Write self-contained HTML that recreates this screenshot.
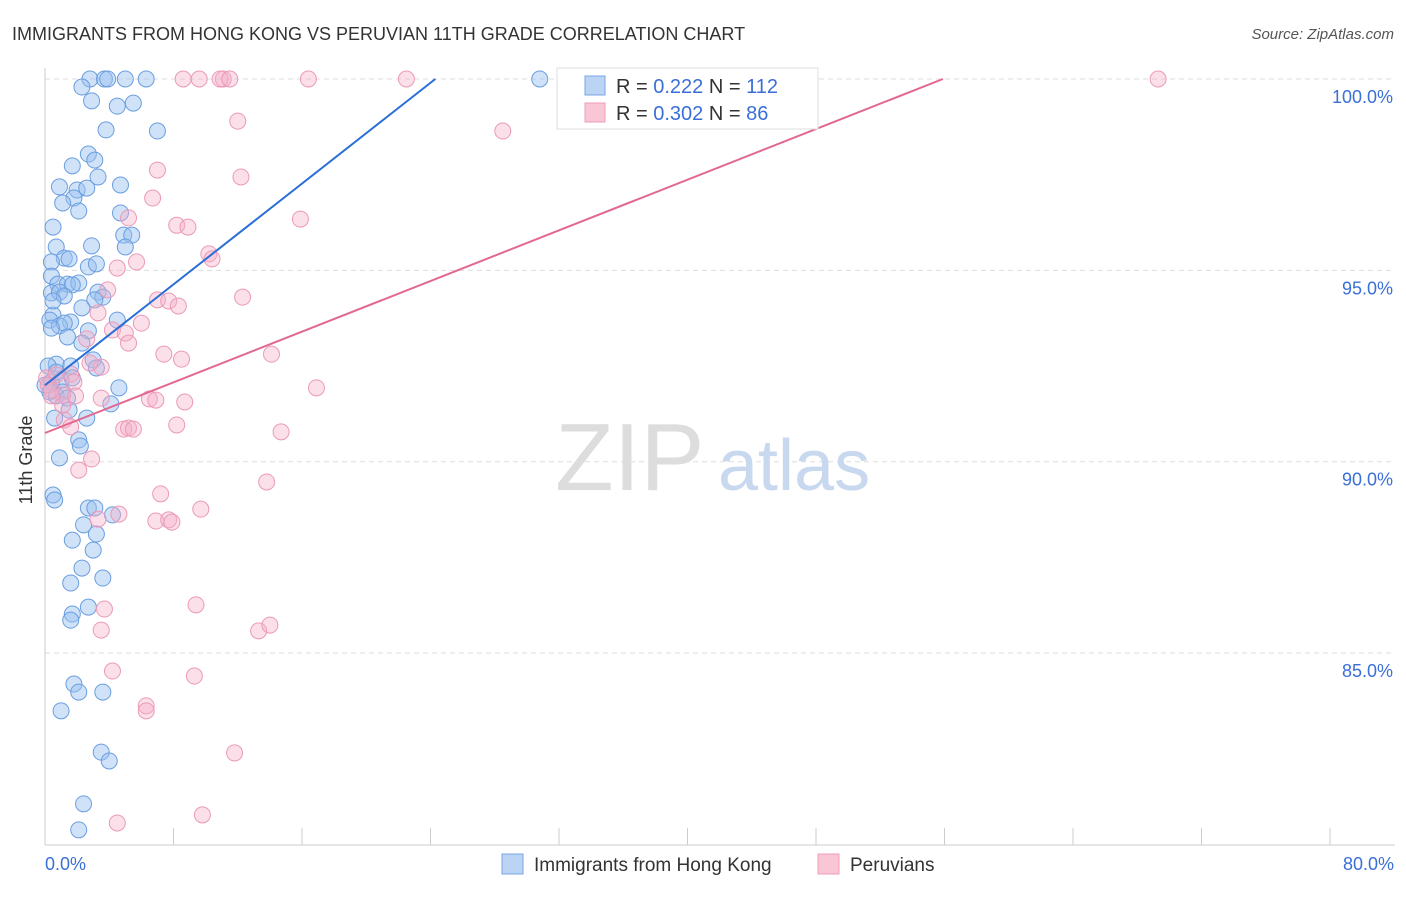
<!DOCTYPE html>
<html><head><meta charset="utf-8"><style>
body{margin:0;background:#fff;font-family:"Liberation Sans",sans-serif}
svg text{font-family:"Liberation Sans",sans-serif}
</style></head><body>
<svg id="chart" width="1406" height="892">
<text x="12" y="40" font-size="18" fill="#333">IMMIGRANTS FROM HONG KONG VS PERUVIAN 11TH GRADE CORRELATION CHART</text>
<text x="1394" y="39" font-size="15" fill="#555" font-style="italic" text-anchor="end">Source: ZipAtlas.com</text>
<text x="32" y="460" font-size="18" fill="#333" text-anchor="middle" transform="rotate(-90 32 460)">11th Grade</text>
<g id="grid"></g>
<g><text x="555" y="490" font-size="96" fill="#ddd" font-family="Liberation Serif">ZIP</text><text x="718" y="490" font-size="72" fill="#c8d8ef">atlas</text></g>
<g id="pts"></g>
<g id="lines"></g>
<g>
<rect x="557" y="68" width="261" height="61" fill="#fff" stroke="#ddd"/>
<rect x="585" y="76" width="20" height="19" fill="#bcd4f4" stroke="#7aa6e6"/>
<rect x="585" y="103" width="20" height="19" fill="#f9c6d5" stroke="#ee9cb8"/>
<text x="616" y="93" font-size="20" fill="#333">R = <tspan fill="#3a6fd8">0.222</tspan>   N = <tspan fill="#3a6fd8">112</tspan></text>
<text x="616" y="120" font-size="20" fill="#333">R = <tspan fill="#3a6fd8">0.302</tspan>   N = <tspan fill="#3a6fd8"> 86</tspan></text>
</g>
<g>
<rect x="502" y="854" width="21" height="20" fill="#bcd4f4" stroke="#7aa6e6"/>
<text x="534" y="871" font-size="19" fill="#333">Immigrants from Hong Kong</text>
<rect x="818" y="854" width="21" height="20" fill="#f9c6d5" stroke="#ee9cb8"/>
<text x="850" y="871" font-size="19" fill="#333">Peruvians</text>
</g>
</svg>
<script>
const yTicks=[100,95,90,85];
const xTickLabels=["0.0%","80.0%"];
const blueX=[2.8,3.7,3.9,5.0,6.3,30.8,2.3,2.9,4.5,5.5,3.8,7.0,2.7,3.1,1.7,3.3,4.7,0.9,2.0,2.6,1.8,1.1,2.1,4.7,0.5,4.9,5.4,2.9,0.7,5.0,1.2,1.5,0.4,2.7,3.2,0.4,0.8,1.4,2.1,1.7,0.4,0.9,1.2,3.3,3.6,3.1,2.3,0.5,0.3,1.6,0.9,1.2,2.7,0.4,1.4,2.3,4.5,3.0,0.7,1.6,3.2,0.4,1.0,1.7,1.1,0.3,0.7,1.4,4.6,4.1,1.5,2.6,0.6,2.1,2.2,0.9,0.5,0.6,2.7,3.1,2.4,4.2,3.2,1.7,3.0,2.3,3.6,1.6,1.7,1.6,2.7,1.8,2.1,3.6,1.0,3.5,4.0,2.4,2.1,0.5,0.2,0.7,0.0];
const blueY=[100,100,100,100,100,100,99.79,99.43,99.29,99.37,98.67,98.64,98.04,97.88,97.73,97.44,97.23,97.18,97.10,97.15,96.89,96.76,96.55,96.50,96.13,95.92,95.92,95.64,95.61,95.61,95.32,95.30,95.22,95.09,95.17,94.85,94.64,94.64,94.67,94.62,94.41,94.43,94.33,94.43,94.30,94.23,94.02,93.83,93.70,93.65,93.55,93.62,93.42,93.49,93.26,93.10,93.70,92.66,92.55,92.50,92.45,92.08,92.13,92.19,91.82,91.82,91.72,91.66,91.93,91.51,91.35,91.14,91.14,90.57,90.41,90.10,89.13,89.00,88.79,88.79,88.35,88.61,88.11,87.95,87.69,87.22,86.96,86.83,86.02,85.86,86.20,84.19,83.98,83.98,83.49,82.41,82.18,81.06,80.38,94.20,92.50,92.34,92.00];
const pinkX=[8.6,9.6,11.1,10.9,11.5,16.4,22.5,69.3,28.5,12.0,7.0,12.2,6.7,5.2,15.9,8.2,8.9,10.2,10.4,5.7,4.5,3.9,12.3,7.0,7.7,8.3,6.0,3.3,4.2,5.0,2.6,5.2,7.4,8.5,14.1,3.5,2.8,0.7,1.6,0.1,1.8,1.1,0.4,1.9,16.9,6.5,6.9,8.7,3.5,1.2,1.6,4.9,5.2,5.5,8.2,14.7,2.9,2.1,7.2,13.8,3.3,4.6,9.7,6.9,7.7,7.9,9.4,3.7,3.5,13.3,14.0,4.2,9.3,6.3,6.3,11.8,4.5,9.8,0.2,0.4,1.1];
const pinkY=[100,100,100,100,100,100,100,100,98.64,98.90,97.62,97.44,96.89,96.37,96.34,96.18,96.13,95.43,95.30,95.22,95.06,94.49,94.30,94.23,94.20,94.07,93.62,93.89,93.44,93.36,93.21,93.10,92.81,92.68,92.81,92.47,92.58,92.27,92.29,92.19,92.08,91.74,91.72,91.72,91.93,91.64,91.61,91.56,91.66,91.09,90.91,90.85,90.88,90.85,90.96,90.78,90.07,89.78,89.16,89.47,88.50,88.63,88.76,88.45,88.48,88.42,86.26,86.15,85.60,85.58,85.73,84.53,84.40,83.62,83.49,82.39,80.56,80.77,92.00,91.87,91.48];
const trendBlue=[0,92.0,24.3,100];
const trendPink=[0,90.75,55.9,100];
const NS="http://www.w3.org/2000/svg";
const X0=45,X1=1330,Y100=79,PXPER=38.27;
const sx=v=>X0+(v/80)*(X1-X0);
const sy=v=>Y100+(100-v)*PXPER;
function mk(tag,attrs,parent){const e=document.createElementNS(NS,tag);for(const k in attrs)e.setAttribute(k,attrs[k]);parent.appendChild(e);return e;}
const grid=document.getElementById('grid');
yTicks.forEach(t=>{
 const l=mk('line',{x1:X0,x2:1395,y1:sy(t),y2:sy(t),stroke:'#ddd','stroke-dasharray':'5,4'},grid);
 
 
 const tx=mk('text',{x:1393,y:sy(t)+24,'font-size':18,fill:'#3a6fd8','text-anchor':'end'},grid);
 tx.textContent=t.toFixed(1)+'%';
 
 
});
const ax=mk('line',{x1:X0,x2:1395,y1:845,y2:845,stroke:'#ccc'},grid);


const ay=mk('line',{x1:X0,x2:X0,y1:68,y2:845,stroke:'#ccc'},grid);


for(let i=0;i<=10;i++){
 const tk=mk('line',{x1:sx(i*8),x2:sx(i*8),y1:828,y2:845,stroke:'#ccc'},grid);
 
 
}
[[0,'start',45],[80,'end',1394]].forEach((d,i)=>{
 const tx=mk('text',{x:d[2],y:870,'font-size':18,fill:'#3a6fd8','text-anchor':d[1]},grid);
 tx.textContent=xTickLabels[i];
 
 
});
const pts=document.getElementById('pts');
blueX.forEach((v,i)=>{
 const c=mk('circle',{cx:sx(v),cy:sy(blueY[i]),r:8,fill:'rgba(150,190,240,0.45)',stroke:'#6a9ee0','stroke-width':1},pts);
 
 
});
pinkX.forEach((v,i)=>{
 const c=mk('circle',{cx:sx(v),cy:sy(pinkY[i]),r:8,fill:'rgba(245,175,200,0.4)',stroke:'#eb9ab8','stroke-width':1},pts);
 
 
});
const lines=document.getElementById('lines');
const lb=mk('line',{x1:sx(trendBlue[0]),y1:sy(trendBlue[1]),x2:sx(trendBlue[2]),y2:sy(trendBlue[3]),stroke:'#2a6fd6','stroke-width':2},lines);


const lp=mk('line',{x1:sx(trendPink[0]),y1:sy(trendPink[1]),x2:sx(trendPink[2]),y2:sy(trendPink[3]),stroke:'#e2688f','stroke-width':2},lines);


</script>
</body></html>
